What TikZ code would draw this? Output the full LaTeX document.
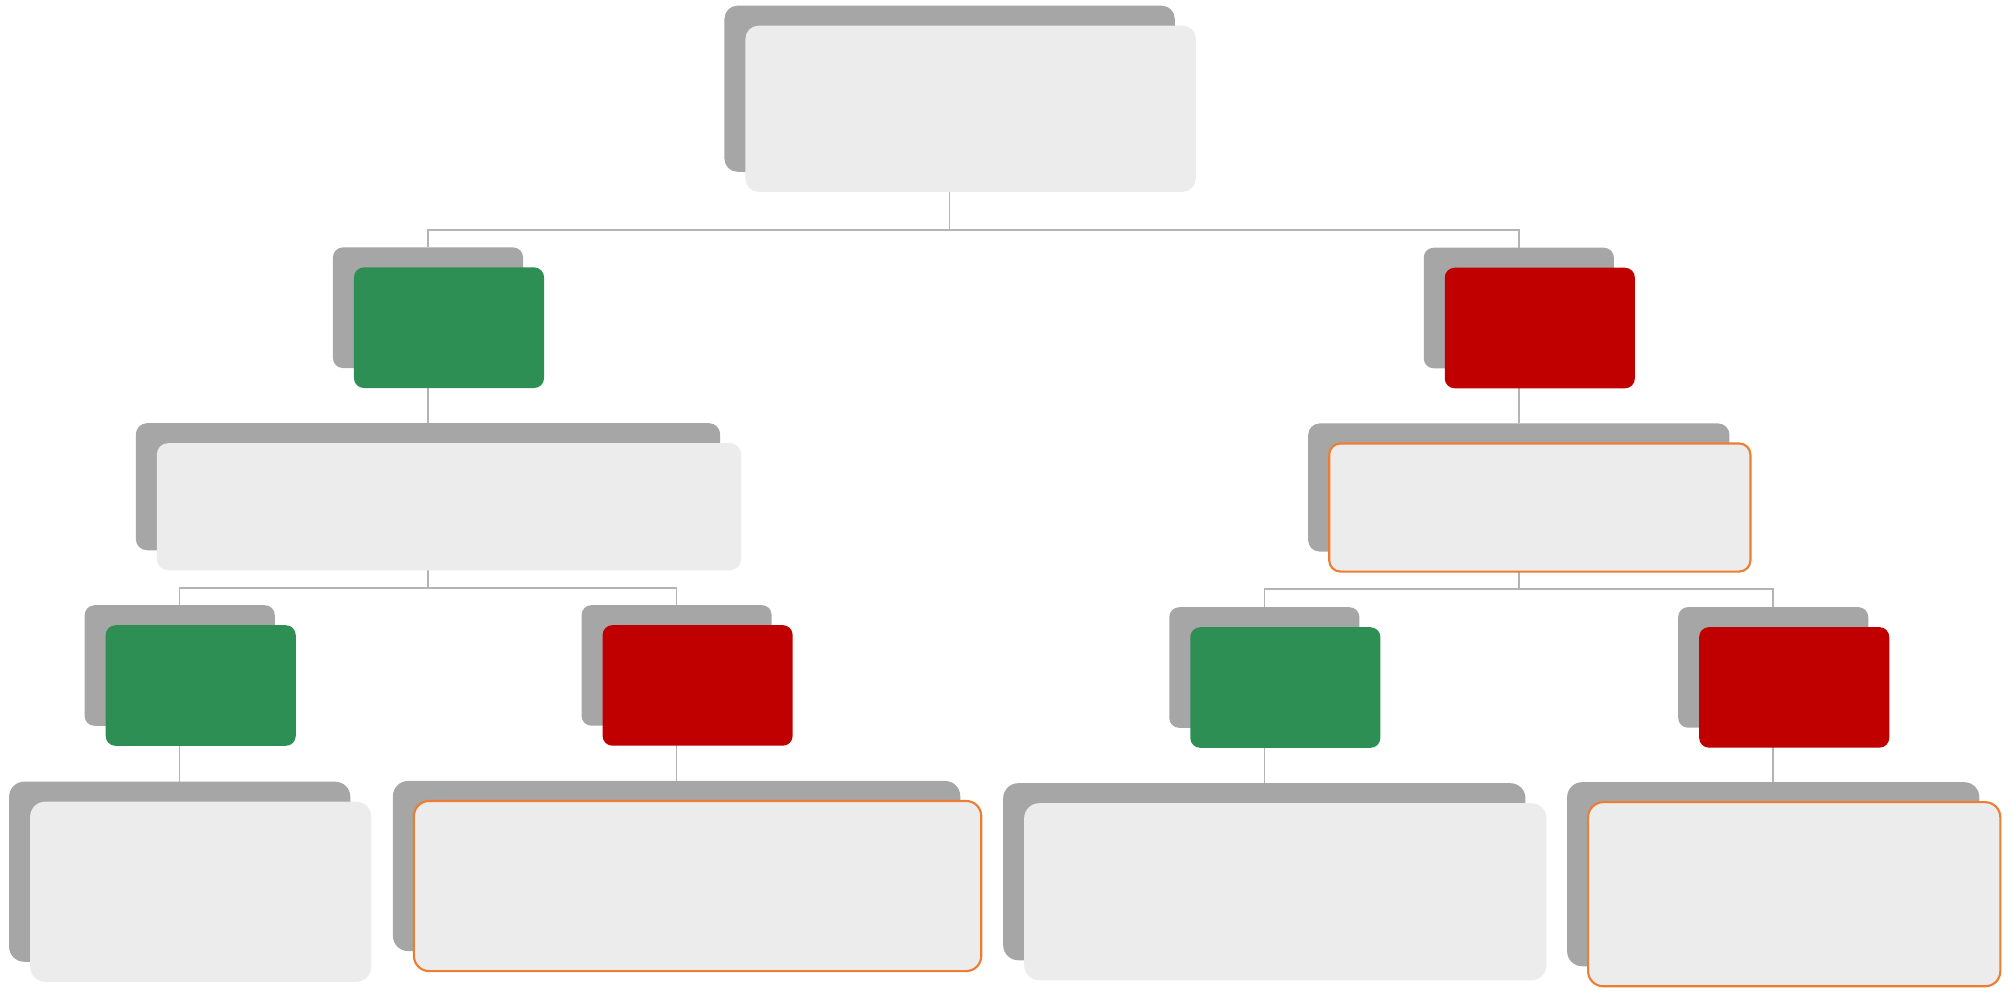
\documentclass[tikz,border=0pt]{standalone}
\usetikzlibrary{positioning,backgrounds}

\definecolor{shadowgray}{HTML}{A6A6A6}
\definecolor{paper}{HTML}{ECECEC}
\definecolor{okgreen}{HTML}{2E8F55}
\definecolor{nored}{HTML}{C00000}
\definecolor{hilite}{HTML}{ED7D31}
\definecolor{linkgray}{HTML}{B4B4B4}

\begin{document}
\begin{tikzpicture}[
x=0.01cm, y=-0.01cm,
every node/.style={
    inner sep=0pt,
    outer sep=0pt
},
back/.style={fill=shadowgray},
card/.style={fill=paper},
yes/.style={fill=okgreen},
no/.style={fill=nored},
marked/.style={draw=hilite, line width=0.6pt},
rootsize/.style={minimum width=4.5cm, minimum height=1.66cm, rounded corners=3.7pt},
smallsize/.style={minimum width=1.9cm, minimum height=1.205cm, rounded corners=2.8pt},
midAsize/.style={minimum width=5.84cm, minimum height=1.27cm, rounded corners=3.2pt},
midBsize/.style={minimum width=4.21cm, minimum height=1.28cm, rounded corners=3.2pt},
leafAsize/.style={minimum width=3.41cm, minimum height=1.80cm, rounded corners=4.3pt},
leafBsize/.style={minimum width=5.67cm, minimum height=1.70cm, rounded corners=4.3pt},
leafCsize/.style={minimum width=5.22cm, minimum height=1.77cm, rounded corners=4.3pt},
leafDsize/.style={minimum width=4.12cm, minimum height=1.84cm, rounded corners=4.3pt},
link/.style={draw=linkgray, line width=0.45pt}
]
\useasboundingbox (0,0) rectangle (2013,993);

% root
\node[back, rootsize] (root-bg) at (949.6,88.7) {};
\node[card, rootsize] (root) at ([shift={(21,20)}]root-bg.center) {};

% first level
\node[back, smallsize] (green1-bg) at (428,307.7) {};
\node[yes, smallsize] (green1) at ([shift={(21,20)}]green1-bg.center) {};

\node[back, smallsize] (red1-bg) at (1518.8,308) {};
\node[no, smallsize] (red1) at ([shift={(21,20)}]red1-bg.center) {};

% second level
\node[back, midAsize] (mid1-bg) at (428,486.7) {};
\node[card, midAsize] (mid1) at ([shift={(21,20)}]mid1-bg.center) {};

\node[back, midBsize] (mid2-bg) at (1518.8,487.5) {};
\node[card, marked, midBsize] (mid2) at ([shift={(21,20)}]mid2-bg.center) {};

% third level
\node[back, smallsize] (green2-bg) at (179.7,665.5) {};
\node[yes, smallsize] (green2) at ([shift={(21,20)}]green2-bg.center) {};

\node[back, smallsize] (red2-bg) at (676.6,665.4) {};
\node[no, smallsize] (red2) at ([shift={(21,20)}]red2-bg.center) {};

\node[back, smallsize] (green3-bg) at (1264.3,667.5) {};
\node[yes, smallsize] (green3) at ([shift={(21,20)}]green3-bg.center) {};

\node[back, smallsize] (red3-bg) at (1773.2,667.4) {};
\node[no, smallsize] (red3) at ([shift={(21,20)}]red3-bg.center) {};

% leaves
\node[back, leafAsize] (leaf1-bg) at (179.7,871.7) {};
\node[card, leafAsize] (leaf1) at ([shift={(21,20)}]leaf1-bg.center) {};

\node[back, leafBsize] (leaf2-bg) at (676.6,866) {};
\node[card, marked, leafBsize] (leaf2) at ([shift={(21,20)}]leaf2-bg.center) {};

\node[back, leafCsize] (leaf3-bg) at (1264.3,871.7) {};
\node[card, leafCsize] (leaf3) at ([shift={(21,20)}]leaf3-bg.center) {};

\node[back, leafDsize] (leaf4-bg) at (1773.2,874.2) {};
\node[card, marked, leafDsize] (leaf4) at ([shift={(21,20)}]leaf4-bg.center) {};

\begin{scope}[on background layer]
\draw[link] (root-bg.south) -- ++(0,58) coordinate (split0) -| (green1-bg.north);
\draw[link] (split0) -| (red1-bg.north);

\draw[link] (green1-bg.south) -- (mid1-bg.north);
\draw[link] (red1-bg.south) -- (mid2-bg.north);

\draw[link] (mid1-bg.south) -- ++(0,37.7) coordinate (split1) -| (green2-bg.north);
\draw[link] (split1) -| (red2-bg.north);
\draw[link] (mid2-bg.south) -- ++(0,37.6) coordinate (split2) -| (green3-bg.north);
\draw[link] (split2) -| (red3-bg.north);

\draw[link] (green2-bg.south) -- (leaf1-bg.north);
\draw[link] (red2-bg.south) -- (leaf2-bg.north);
\draw[link] (green3-bg.south) -- (leaf3-bg.north);
\draw[link] (red3-bg.south) -- (leaf4-bg.north);
\end{scope}

\end{tikzpicture}
\end{document}
